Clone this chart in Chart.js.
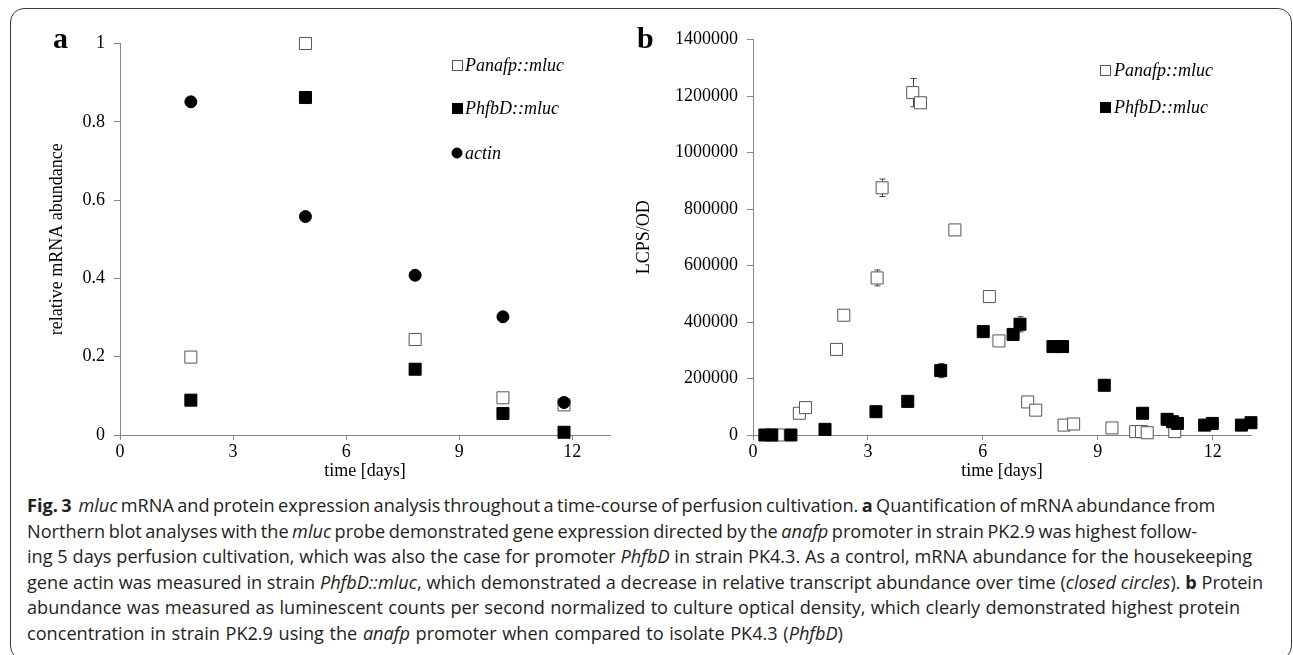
<!DOCTYPE html>
<html><head><meta charset="utf-8">
<script src="https://cdn.jsdelivr.net/npm/chart.js@4.4.1/dist/chart.umd.min.js"></script>
<style>
html,body{margin:0;padding:0;background:#fff;}
body{width:1293px;height:655px;position:relative;overflow:hidden;}
#frame{position:absolute;left:10px;top:8px;width:1282px;height:652px;border:1.4px solid #3a3a3a;border-radius:14px;box-sizing:border-box;}
#ca{position:absolute;left:0;top:0;}
#cb{position:absolute;left:620px;top:0;}
.pl{position:absolute;font-family:"Liberation Serif",serif;font-weight:bold;font-size:30px;line-height:30px;color:#000;}
#cap{position:absolute;left:27px;top:493px;font-family:"Open Sans",sans-serif;font-size:17px;line-height:25.5px;color:#231f20;white-space:nowrap;}
#cap div{height:25.5px;}
</style></head>
<body>
<div id="frame"></div>
<canvas id="ca" width="620" height="490"></canvas>
<canvas id="cb" width="673" height="490"></canvas>
<div class="pl" style="left:53px;top:23px;">a</div>
<div class="pl" style="left:637px;top:23px;">b</div>
<div id="cap">
<div><span class="ln"><b>Fig. 3</b>&nbsp;&nbsp;<i>mluc</i> mRNA and protein expression analysis throughout a time-course of perfusion cultivation. <b>a</b> Quantification of mRNA abundance from</span></div>
<div><span class="ln">Northern blot analyses with the <i>mluc</i> probe demonstrated gene expression directed by the <i>anafp</i> promoter in strain PK2.9 was highest follow-</span></div>
<div><span class="ln">ing 5 days perfusion cultivation, which was also the case for promoter <i>PhfbD</i> in strain PK4.3. As a control, mRNA abundance for the housekeeping</span></div>
<div><span class="ln">gene actin was measured in strain <i>PhfbD::mluc</i>, which demonstrated a decrease in relative transcript abundance over time (<i>closed circles</i>). <b>b</b> Protein</span></div>
<div><span class="ln">abundance was measured as luminescent counts per second normalized to culture optical density, which clearly demonstrated highest protein</span></div>
<div><span class="ln">concentration in strain PK2.9 using the <i>anafp</i> promoter when compared to isolate PK4.3 (<i>PhfbD</i>)</span></div>
</div>
<script>
// ---------- DATA ----------
const seriesNames = ['Panafp::mluc', 'PhfbD::mluc', 'actin'];

// Panel a: relative mRNA abundance
const daysA   = [1.88, 4.92, 7.83, 10.16, 11.78];
const panafpA = [0.199, 1.0, 0.244, 0.095, 0.077];
const phfbdA  = [0.089, 0.862, 0.168, 0.055, 0.007];
const actinA  = [0.851, 0.558, 0.408, 0.302, 0.083];

// Panel b: LCPS/OD
const daysPanafpB = [0.66, 1.21, 1.37, 2.18, 2.37, 3.24, 3.37, 4.17, 4.37, 5.27, 6.17, 6.42, 7.17, 7.38, 8.12, 8.37, 9.37, 9.99, 10.14, 10.29, 11.01];
const panafpB     = [0, 77000, 97000, 303000, 424000, 556000, 875000, 1212000, 1176000, 726000, 490000, 333000, 117000, 88000, 35000, 39000, 25000, 12000, 12000, 8000, 12000];
const panafpErrB  = [0, 0, 0, 0, 0, 28000, 31000, 50000, 0, 0, 0, 0, 0, 0, 0, 0, 0, 0, 0, 0, 0];
const daysPhfbdB  = [0.31, 0.49, 0.99, 1.88, 3.21, 4.04, 4.90, 6.01, 6.79, 6.97, 7.83, 8.08, 9.17, 10.17, 10.81, 10.95, 11.08, 11.79, 11.99, 12.75, 13.0];
const phfbdB      = [0, 0, 0, 20000, 82500, 119000, 228000, 366000, 356000, 392000, 313000, 313000, 176000, 77000, 55500, 47000, 41000, 35000, 41000, 35000, 43500];
const phfbdErrB   = [0, 0, 0, 0, 0, 0, 25000, 0, 0, 27000, 0, 0, 0, 0, 0, 0, 0, 0, 0, 0, 0];

// Tick labels
const xTicks  = [0, 3, 6, 9, 12];
const yTicksA = [0, 0.2, 0.4, 0.6, 0.8, 1];
const yTicksB = [0, 200000, 400000, 600000, 800000, 1000000, 1200000, 1400000];

// ---------- HELPERS ----------
const pts = (xs, ys) => xs.map((x, i) => ({x: x, y: ys[i]}));
const SERIF = '"Liberation Serif", "Times New Roman", serif';
const AXIS = '#868686';

const errorBars = {
  id: 'errorBars',
  beforeDatasetsDraw(chart) {
    const {ctx, scales: {x, y}} = chart;
    chart.data.datasets.forEach(ds => {
      if (!ds.errors) return;
      ds.data.forEach((p, j) => {
        const e = ds.errors[j];
        if (!e) return;
        const px = Math.round(x.getPixelForValue(p.x)) + 0.5;
        const y1 = y.getPixelForValue(p.y + e), y2 = y.getPixelForValue(p.y - e);
        ctx.save();
        ctx.strokeStyle = '#444'; ctx.lineWidth = 1;
        ctx.beginPath();
        ctx.moveTo(px, y1); ctx.lineTo(px, y2);
        ctx.moveTo(px - 3, y1); ctx.lineTo(px + 3, y1);
        ctx.moveTo(px - 3, y2); ctx.lineTo(px + 3, y2);
        ctx.stroke();
        ctx.restore();
      });
    });
  }
};

const markLegend = {
  id: 'markLegend',
  afterDraw(chart, args, opts) {
    if (!opts || !opts.items) return;
    const ctx = chart.ctx;
    opts.items.forEach(it => {
      const ds = chart.data.datasets[it.index];
      const s = opts.size;
      ctx.save();
      ctx.fillStyle = ds.backgroundColor;
      ctx.strokeStyle = ds.borderColor;
      ctx.lineWidth = 1;
      if (ds.pointStyle === 'circle') {
        ctx.beginPath(); ctx.arc(it.x, it.y, s / 2, 0, Math.PI * 2); ctx.fill(); ctx.stroke();
      } else {
        const x0 = Math.round(it.x - s / 2) + 0.5, y0 = Math.round(it.y - s / 2) + 0.5;
        ctx.fillRect(x0, y0, s, s); ctx.strokeRect(x0, y0, s, s);
      }
      ctx.font = 'italic 18px ' + SERIF;
      ctx.fillStyle = '#000';
      ctx.textBaseline = 'middle';
      ctx.textAlign = 'left';
      ctx.fillText(ds.label, it.x + opts.gap, it.y + 1);
      ctx.restore();
    });
  }
};

function openSq(label, data, extra) {
  return Object.assign({label, data, pointStyle: 'rect', pointRadius: 8.5, pointHoverRadius: 8.5,
    backgroundColor: '#ffffff', borderColor: '#555555', borderWidth: 1, showLine: false, clip: false}, extra || {});
}
function fillSq(label, data, extra) {
  return Object.assign({label, data, pointStyle: 'rect', pointRadius: 8.5, pointHoverRadius: 8.5,
    backgroundColor: '#000000', borderColor: '#000000', borderWidth: 1, showLine: false, clip: false}, extra || {});
}

function makeOptions(cfg) {
  return {
    responsive: false, animation: false, devicePixelRatio: 1,
    layout: {padding: cfg.padding},
    plugins: {legend: {display: false}, tooltip: {enabled: false}, markLegend: cfg.legend},
    scales: {
      x: {
        type: 'linear', min: 0, max: 13,
        afterFit: s => { s.height = 55; },
        afterBuildTicks: s => { s.ticks = xTicks.map(v => ({value: v})); },
        border: {display: true, color: AXIS, width: 1},
        grid: {display: true, drawOnChartArea: false, drawTicks: true, tickLength: 5, color: AXIS},
        ticks: {color: '#000', font: {family: SERIF, size: 18}, padding: 1, maxRotation: 0, autoSkip: false,
                callback: v => String(v)},
        title: {display: true, text: 'time [days]', color: '#000', font: {family: SERIF, size: 18},
                padding: {top: 0, bottom: 8}}
      },
      y: {
        type: 'linear', min: cfg.yMin, max: cfg.yMax,
        afterFit: s => { s.width = cfg.yWidth; },
        afterBuildTicks: s => { s.ticks = cfg.yTicks.map(v => ({value: v})); },
        border: {display: true, color: AXIS, width: 1},
        grid: {display: true, drawOnChartArea: false, drawTicks: true, tickLength: 6, color: AXIS},
        ticks: {color: '#000', font: {family: SERIF, size: 18}, padding: 9, autoSkip: false,
                callback: cfg.yFmt},
        title: {display: true, text: cfg.yTitle, color: '#000', font: {family: SERIF, size: 18},
                padding: {top: cfg.yTitlePad, bottom: 0}}
      }
    }
  };
}

// ---------- PANEL A ----------
new Chart(document.getElementById('ca'), {
  type: 'scatter',
  data: {datasets: [
    openSq(seriesNames[0], pts(daysA, panafpA), {order: 2}),
    fillSq(seriesNames[1], pts(daysA, phfbdA), {order: 1}),
    {label: seriesNames[2], data: pts(daysA, actinA), pointStyle: 'circle', pointRadius: 6, pointHoverRadius: 6,
     backgroundColor: '#000000', borderColor: '#000000', borderWidth: 1, showLine: false, clip: false, order: 0}
  ]},
  options: makeOptions({
    padding: {left: 0, top: 43.5, right: 10, bottom: 0},
    yMin: 0, yMax: 1, yTicks: yTicksA, yWidth: 120,
    yFmt: v => String(+Number(v).toFixed(1)),
    yTitle: 'relative mRNA abundance', yTitlePad: 46,
    legend: {size: 10, gap: 8, items: [{index: 0, x: 457, y: 65}, {index: 1, x: 457, y: 108}, {index: 2, x: 457, y: 153}]}
  }),
  plugins: [errorBars, markLegend]
});

// ---------- PANEL B ----------
new Chart(document.getElementById('cb'), {
  type: 'scatter',
  data: {datasets: [
    openSq(seriesNames[0], pts(daysPanafpB, panafpB), {order: 1, errors: panafpErrB}),
    fillSq(seriesNames[1], pts(daysPhfbdB, phfbdB), {order: 0, errors: phfbdErrB})
  ]},
  options: makeOptions({
    padding: {left: 0, top: 39.5, right: 42, bottom: 0},
    yMin: 0, yMax: 1400000, yTicks: yTicksB, yWidth: 133,
    yFmt: v => String(Math.round(v)),
    yTitle: 'LCPS/OD', yTitlePad: 13,
    legend: {size: 10, gap: 9, items: [{index: 0, x: 485, y: 70}, {index: 1, x: 485, y: 107}]}
  }),
  plugins: [errorBars, markLegend]
});

// ---------- caption line fitting (right edge of each line, page px) ----------
(function () {
  const ends = [1218, 1197, 1252, 1263, 1240, 843];
  const cap = document.getElementById('cap');
  const lines = Array.from(cap.querySelectorAll('.ln'));
  const left = 27;
  const w4 = lines[3].getBoundingClientRect().width;
  cap.style.fontSize = (17 * (ends[3] - left) / w4).toFixed(2) + 'px';
  lines.forEach((ln, i) => {
    const w = ln.getBoundingClientRect().width;
    const spaces = (ln.textContent.match(/ /g) || []).length || 1;
    const ws = ((ends[i] - left) - w) / spaces;
    ln.style.wordSpacing = ws.toFixed(2) + 'px';
  });
})();
</script>
</body></html>
